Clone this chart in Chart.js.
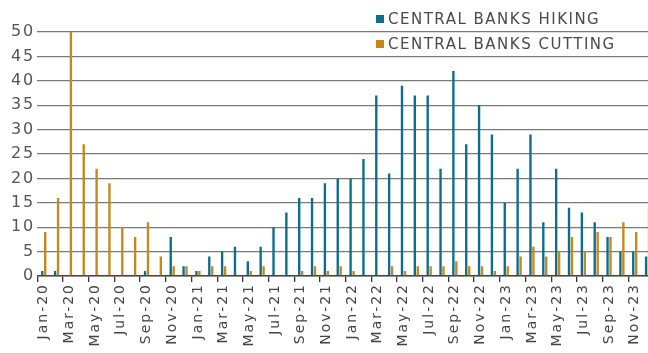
<!DOCTYPE html>
<html>
<head>
<meta charset="utf-8">
<script src="https://cdn.jsdelivr.net/npm/chart.js@4.4.0/dist/chart.umd.min.js"></script>
<style>
  html, body { margin: 0; padding: 0; background: #fff; overflow: hidden; }
  #wrap { position: relative; width: 654px; height: 353px; }
</style>
</head>
<body>
<div id="wrap"><canvas id="ratesChart"></canvas></div>
<script>
const months = [
    "Jan-20", "Feb-20", "Mar-20", "Apr-20", "May-20", "Jun-20", "Jul-20", "Aug-20", "Sep-20", "Oct-20", "Nov-20", "Dec-20",
    "Jan-21", "Feb-21", "Mar-21", "Apr-21", "May-21", "Jun-21", "Jul-21", "Aug-21", "Sep-21", "Oct-21", "Nov-21", "Dec-21",
    "Jan-22", "Feb-22", "Mar-22", "Apr-22", "May-22", "Jun-22", "Jul-22", "Aug-22", "Sep-22", "Oct-22", "Nov-22", "Dec-22",
    "Jan-23", "Feb-23", "Mar-23", "Apr-23", "May-23", "Jun-23", "Jul-23", "Aug-23", "Sep-23", "Oct-23", "Nov-23", "Dec-23"
];

const hiking = [
    1, 1, 0, 0, 0, 0, 0, 0, 1, 0, 8, 2,
    1, 4, 5, 6, 3, 6, 10, 13, 16, 16, 19, 20,
    20, 24, 37, 21, 39, 37, 37, 22, 42, 27, 35, 29,
    15, 22, 29, 11, 22, 14, 13, 11, 8, 5, 5, 4
];

const cutting = [
    9, 16, 50, 27, 22, 19, 10, 8, 11, 4, 2, 2,
    1, 2, 2, 0, 1, 2, 0, 0, 1, 2, 1, 2,
    1, 0, 0, 2, 1, 2, 2, 2, 3, 2, 2, 1,
    2, 4, 6, 4, 5, 8, 5, 9, 8, 11, 9, 14
];

// y axis runs 0..50 in steps of 5
const yMin = 0, yMax = 50, yStep = 5;

const FONT = "'DejaVu Sans', sans-serif";

// legend drawn by hand so it can sit over the top of the plot
const cornerLegend = {
    id: "cornerLegend",
    beforeDraw(chart) {
        chart.ctx.letterSpacing = "2px";
    },
    afterDraw(chart) {
        const ctx = chart.ctx;
        ctx.save();
        ctx.letterSpacing = "1.5px";
        ctx.font = "15px " + FONT;
        ctx.textBaseline = "middle";
        chart.data.datasets.forEach((ds, i) => {
            const y = 19 + i * 25;
            ctx.fillStyle = ds.backgroundColor;
            ctx.fillRect(376, y - 4, 8, 8);
            ctx.fillStyle = "#4a4a4a";
            ctx.fillText(ds.label, 388, y + 1);
        });
        ctx.restore();
    }
};

new Chart(document.getElementById("ratesChart"), {
    type: "bar",
    data: {
        labels: months,
        datasets: [{
            label: "CENTRAL BANKS HIKING",
            data: hiking,
            backgroundColor: "#0b6e8d",
            categoryPercentage: 0.46,
            barPercentage: 0.8
        }, {
            label: "CENTRAL BANKS CUTTING",
            data: cutting,
            backgroundColor: "#c4881f",
            categoryPercentage: 0.46,
            barPercentage: 0.8
        }]
    },
    options: {
        responsive: true,
        maintainAspectRatio: false,
        animation: false,
        layout: { padding: { top: 32, right: 0, bottom: 0, left: 0 } },
        plugins: {
            legend: { display: false },
            tooltip: { enabled: false }
        },
        scales: {
            x: {
                offset: true,
                grid: {
                    drawOnChartArea: false,
                    drawTicks: true,
                    tickLength: 6,
                    lineWidth: 1.3,
                    color: (c) => (c.index % 2 === 0 ? "#333" : "rgba(0,0,0,0)")
                },
                border: { display: true, color: "#444", width: 1.5 },
                ticks: {
                    autoSkip: false,
                    maxRotation: 90,
                    minRotation: 90,
                    padding: 1,
                    color: "#444",
                    font: { family: FONT, size: 14 },
                    callback: (v, i) => (i % 2 === 0 ? months[i] : "")
                },
                afterFit(scale) {
                    scale.height = 77;
                    scale.paddingLeft = 0;
                    scale.paddingRight = 0;
                }
            },
            y: {
                min: yMin,
                max: yMax,
                grid: {
                    drawTicks: false,
                    color: "#7a7a7a",
                    lineWidth: 1.3
                },
                border: { display: false },
                ticks: {
                    stepSize: yStep,
                    padding: 2,
                    color: "#555",
                    font: { family: FONT, size: 16 }
                },
                afterFit(scale) {
                    scale.width = 37.3;
                    scale.paddingTop = 0;
                    scale.paddingBottom = 0;
                }
            }
        }
    },
    plugins: [cornerLegend]
});
</script>
</body>
</html>
